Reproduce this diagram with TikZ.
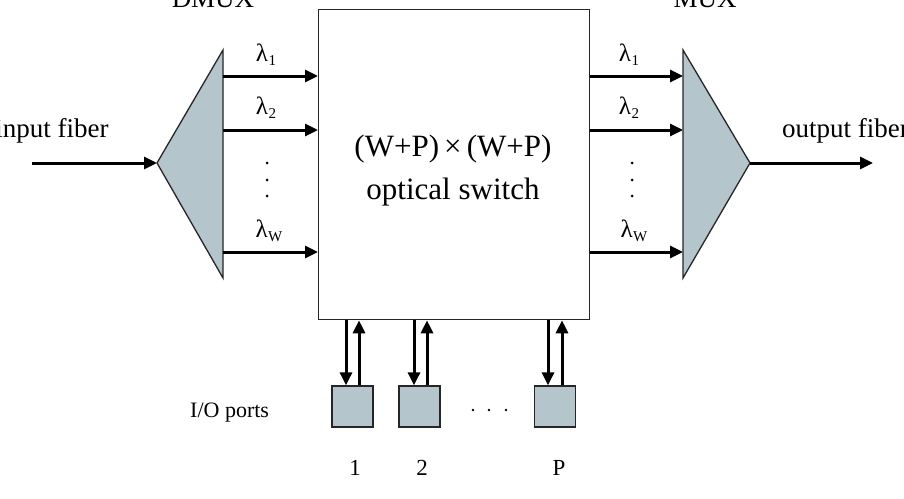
\documentclass[tikz,border=0pt]{standalone}
\usepackage{fontspec}
\setmainfont{Liberation Serif}
\usetikzlibrary{arrows.meta}
\definecolor{boxfill}{RGB}{180,198,204}
\newcommand{\lamsub}[1]{λ\kern0.5pt\raisebox{-4pt}{\fontsize{15}{15}\selectfont #1}}
\begin{document}
\begin{tikzpicture}[x=1pt,y=-1pt,
  conn/.style={line width=3pt,-{Triangle[length=13pt,width=12pt]}},
  outline/.style={draw=black!85,line width=1.3pt},
  tri/.style={outline,fill=boxfill,line join=miter},
  port/.style={outline,fill=boxfill,minimum width=41pt,minimum height=41pt,inner sep=0pt},
  lbl/.style={font=\fontsize{27}{30}\selectfont,inner sep=0pt},
  lam/.style={font=\fontsize{25}{28}\selectfont,inner sep=0pt,anchor=base},
  num/.style={font=\fontsize{23}{26}\selectfont,inner sep=0pt,anchor=base},
  dot/.style={fill=black,draw=none}]
\useasboundingbox (0,0) rectangle (904,498);
\fill[white] (0,0) rectangle (904,498);

% switch
\node[outline,minimum width=271pt,minimum height=310pt,anchor=north west,inner sep=0pt] (sw) at (318,9) {};
\node[font=\fontsize{31}{34}\selectfont,inner sep=0pt,anchor=base] (sw1) at (453,156) {(W+P)\,×\,(W+P)};
\node[font=\fontsize{31}{34}\selectfont,inner sep=0pt,anchor=base] (sw2) at (453,199) {optical switch};

% DMUX
\coordinate (dapex) at (157,163);
\draw[tri] (dapex) -- (223,50) -- (223,278) -- cycle;
\coordinate (d1) at (223,76);
\coordinate (d2) at (223,130);
\coordinate (dw) at (223,252);
\draw[conn] (d1) -- (sw.west |- d1);
\draw[conn] (d2) -- (sw.west |- d2);
\draw[conn] (dw) -- (sw.west |- dw);
\coordinate (infib) at (32,163);
\draw[conn] (infib) -- (dapex);
\node[lbl,anchor=base] (intext) at (52,137) {input fiber};
\node[lbl,anchor=base] (dmux) at (213,7) {DMUX};
\node[lam] (dl1) at (266,61) {\lamsub{1}};
\node[lam] (dl2) at (266,114) {\lamsub{2}};
\node[lam] (dlw) at (269,237) {\lamsub{W}};
\fill[dot] (267,163) circle (1.5) (267,180) circle (1.5) (267,196) circle (1.5);

% MUX
\coordinate (mapex) at (750,163);
\draw[tri] (mapex) -- (683,50) -- (683,278) -- cycle;
\coordinate (m1) at (683,76);
\coordinate (m2) at (683,130);
\coordinate (mw) at (683,252);
\draw[conn] (sw.east |- m1) -- (m1);
\draw[conn] (sw.east |- m2) -- (m2);
\draw[conn] (sw.east |- mw) -- (mw);
\coordinate (outfib) at (873,163);
\draw[conn] (mapex) -- (outfib);
\node[lbl,anchor=base west] (outtext) at (782,137) {output fiber};
\node[lbl,anchor=base] (mux) at (705,7) {MUX};
\node[lam] (ml1) at (629,61) {\lamsub{1}};
\node[lam] (ml2) at (629,114) {\lamsub{2}};
\node[lam] (mlw) at (634,237) {\lamsub{W}};
\fill[dot] (632,163) circle (1.5) (632,180) circle (1.5) (632,196) circle (1.5);

% I/O ports
\node[port] (p1) at (352.5,406.5) {};
\node[port] (p2) at (419.5,406.5) {};
\node[port] (pp) at (555,406.5) {};
\draw[conn] (sw.south -| 346,0) -- (p1.north -| 346,0);
\draw[conn] (p1.north -| 359,0) -- (sw.south -| 359,0);
\draw[conn] (sw.south -| 414,0) -- (p2.north -| 414,0);
\draw[conn] (p2.north -| 427,0) -- (sw.south -| 427,0);
\draw[conn] (sw.south -| 548,0) -- (pp.north -| 548,0);
\draw[conn] (pp.north -| 562,0) -- (sw.south -| 562,0);
\fill[dot] (473,410) circle (1.4) (489,410) circle (1.4) (506,410) circle (1.4);
\node[font=\fontsize{22}{26}\selectfont,inner sep=0pt,anchor=base west] (iolbl) at (190,417) {I/O ports};
\node[num] (n1) at (355,475) {1};
\node[num] (n2) at (422,475) {2};
\node[num] (np) at (559,475) {P};
\end{tikzpicture}
\end{document}
